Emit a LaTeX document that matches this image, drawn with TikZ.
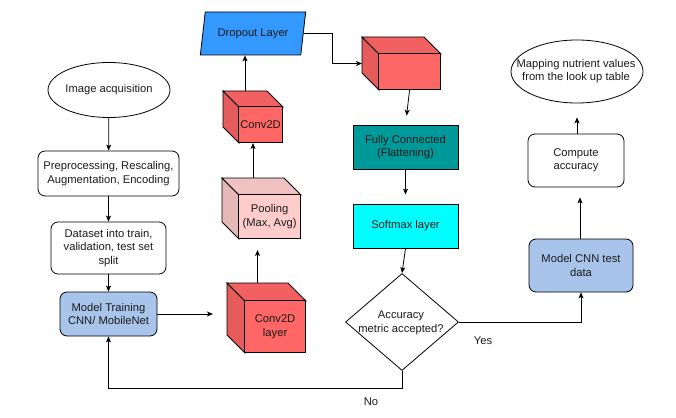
\documentclass[tikz,border=0pt]{standalone}
\usepackage{fontspec}
\setmainfont{Liberation Sans}
\usetikzlibrary{shapes.geometric,arrows.meta,calc}
\definecolor{txt}{HTML}{1A1A1A}
\definecolor{redF}{HTML}{FF6666}
\definecolor{redT}{HTML}{F26161}
\definecolor{redS}{HTML}{E65C5C}
\definecolor{pinkF}{HTML}{FFCCCC}
\definecolor{pinkT}{HTML}{F2C2C2}
\definecolor{pinkS}{HTML}{E6B8B8}
\definecolor{mtblue}{HTML}{A9C4EB}
\definecolor{dropblue}{HTML}{3399FF}
\definecolor{teal2}{HTML}{009999}
\definecolor{cyan2}{HTML}{00FFFF}
\tikzset{
  every node/.style={font=\fontsize{11.2}{13.5}\selectfont, text=txt},
  box/.style={draw, rounded corners=7pt, line width=0.8pt, align=center, inner sep=0pt},
  sqbox/.style={draw, line width=0.8pt, align=center, inner sep=0pt},
  oval/.style={draw, ellipse, line width=0.8pt, inner sep=0pt},
  arr/.style={-{Stealth[length=6pt,width=5pt,inset=1.5pt]}, line width=0.8pt},
  ln/.style={line width=0.8pt}
}
\newcommand\mycube[8]{%
  \path[draw=black, line width=0.8pt, fill=#7S] (#2,#3) -- (#2+#6,#3+#6) -- (#2+#6,#5) -- (#2,#5-#6) -- cycle;
  \path[draw=black, line width=0.8pt, fill=#7T] (#2,#3) -- (#4-#6,#3) -- (#4,#3+#6) -- (#2+#6,#3+#6) -- cycle;
  \node[sqbox, fill=#7F, minimum width={#4-#2-#6}, minimum height={#5-#3-#6}, anchor=south east] (#1) at (#4,#5) {#8};
  \coordinate (#1-top) at ({(#2+#4-#6)/2},#3);
  \coordinate (#1-west) at (#2,{(#3+#5)/2});
}
\begin{document}
\begin{tikzpicture}[x=1pt,y=-1pt]
\useasboundingbox (0,0) rectangle (676,417);
% left column
\node[oval, minimum width=122, minimum height=55] (img) at (109,90) {};
\node[align=center] (imgtext) at (109,90) {Image acquisition};
\node[box, minimum width=141, minimum height=45] (pre) at (108.5,173.5) {Preprocessing, Rescaling,\\Augmentation, Encoding};
\node[box, minimum width=115, minimum height=52] (ds) at (108.5,248) {Dataset into train,\\validation, test set\\split};
\node[box, fill=mtblue, minimum width=97, minimum height=44] (mt) at (108.5,314) {Model Training\\CNN/ MobileNet};
% cubes
\mycube{conv1}{227}{283}{306}{353}{18}{red}{Conv2D\\layer}
\mycube{pool}{222}{178}{301}{239}{17}{pink}{Pooling\\(Max, Avg)}
\mycube{conv2}{223}{91}{283}{143}{16}{red}{Conv2D}
\mycube{cube3}{362}{37}{441}{90}{17}{red}{}
% dropout
\node[trapezium, trapezium left angle=70, trapezium right angle=110, trapezium stretches=true,
      draw, line width=0.8pt, fill=dropblue, inner sep=0pt, minimum width=106, minimum height=43] (drop) at (253,33.5) {Dropout Layer};
% middle column
\node[sqbox, fill=teal2, minimum width=105, minimum height=44] (fc) at (405.5,147) {Fully Connected\\(Flattening)};
\node[sqbox, fill=cyan2, minimum width=105, minimum height=44] (soft) at (405.5,226) {Softmax layer};
\node[diamond, draw, line width=0.8pt, inner sep=0pt, minimum width=113, minimum height=97] (dia) at (402,322) {};
\node[align=center] (diatext) at (401,323) {Accuracy\\metric accepted?};
% right column
\node[box, fill=mtblue, minimum width=104, minimum height=53] (test) at (581,265.5) {Model CNN test\\data};
\node[box, minimum width=96, minimum height=53] (comp) at (576,160.5) {Compute\\accuracy};
\node[oval, minimum width=132, minimum height=63] (map) at (577,71.5) {};
\node[align=center] (maptext) at (576,71) {Mapping nutrient values\\from the look up table};
% labels
\node (yes) at (483,341) {Yes};
\node (no) at (371,402) {No};
% connectors
\draw[arr] (img) -- (pre);
\draw[arr] (pre) -- (ds);
\draw[arr] (ds) -- (mt);
\coordinate (mtend) at (213,314);
\draw[arr] (mt.east) -- (mtend);
\draw[arr, shorten >=11pt] (conv1-top) -- (conv1-top |- pool.south);
\draw[arr] (pool-top) -- (pool-top |- conv2.south);
\draw[arr] (conv2-top) -- (conv2-top |- drop.south);
\draw[arr] (drop.east) -| ($(drop.east)!0.5!(cube3-west)$) |- (cube3-west);
\draw[arr, shorten >=9pt] (cube3.south) -- (fc.north);
\draw[arr, shorten >=9pt] (fc.south) -- (soft.north);
\draw[arr] (soft.south) -- (dia.north);
\draw[arr] (dia.south) -- ++(0,17) -| (mt.south);
\draw[arr] (dia.east) -| (test.south);
\coordinate (t1) at (580,0);
\draw[arr, shorten >=10pt] (t1 |- test.north) -- (t1 |- comp.south);
\draw[arr, shorten >=14pt] (comp.north -| map.south) -- (map.south);
\end{tikzpicture}
\end{document}
